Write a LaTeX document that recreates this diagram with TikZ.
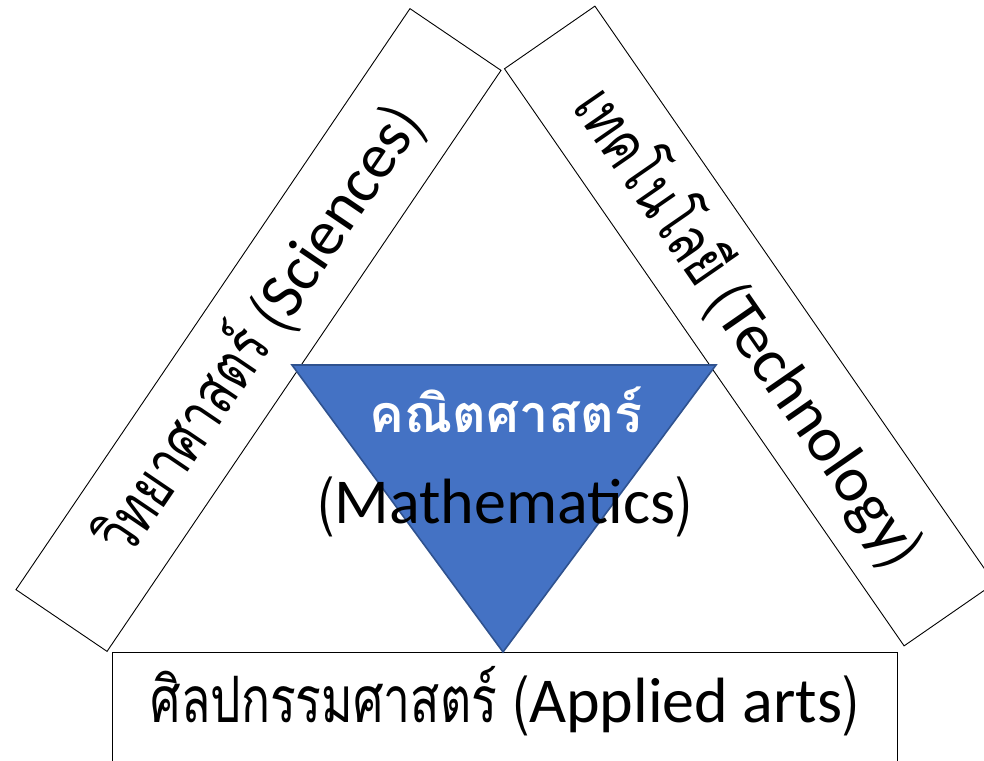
\documentclass[tikz,border=0pt]{standalone}
\usepackage{fontspec}
\setmainfont{Carlito}
\newfontfamily\thaifont[Script=Thai, FakeStretch=0.75]{Loma}
\newfontfamily\thaibold[Script=Thai]{Loma}
\definecolor{mathfill}{RGB}{68,114,196}
\definecolor{mathedge}{RGB}{47,82,143}
\newcommand{\thtxt}[1]{{\thaifont #1}}

\begin{document}
\begin{tikzpicture}[x=1pt, y=-1pt,
    subjbox/.style={draw=black, line width=0.9pt, fill=white, inner sep=0pt,
      minimum height=110pt, font=\fontsize{64}{70}\selectfont},
    bigtext/.style={font=\fontsize{64}{70}\selectfont, inner sep=0pt}]
    \useasboundingbox (0,0) rectangle (984,760);
    \clip (0,0) rectangle (984,760);
    % Side boxes, tilted
    \node[subjbox, minimum width=702pt, rotate=55.86] (sci) at (258.5,330)
      {\thtxt{วิทยาศาสตร์ (}Sciences\thtxt{)}};
    \node[subjbox, minimum width=702pt, rotate=-55.3] (tech) at (749.5,326)
      {\thtxt{เทคโนโลยี (}Technology\thtxt{)}};
    % Bottom box, runs off the lower edge
    \node[subjbox, anchor=base, minimum width=785pt, minimum height=0pt,
      text height=45pt, text depth=60pt, inner ysep=25pt] (arts) at (504.5,722)
      {\thtxt{ศิลปกรรมศาสตร์ (}Applied arts\thtxt{)}};
    % Mathematics triangle in the middle
    \coordinate (tl) at (292,365);
    \coordinate (tr) at (716,365);
    \coordinate (bt) at (503,652);
    \fill[mathfill] (tl) -- (tr) -- (bt) -- cycle;
    \draw[mathedge, line width=1.6pt, line join=miter] (tl) -- (tr) -- (bt) -- cycle;
    \node[inner sep=0pt, white, anchor=base, font=\fontsize{52}{60}\selectfont]
      (mthai) at (506,432) {\thaibold\bfseries คณิตศาสตร์};
    \node[bigtext, anchor=base] (meng) at (505,523)
      {\thtxt{(}Mathematics\thtxt{)}};
\end{tikzpicture}
\end{document}
